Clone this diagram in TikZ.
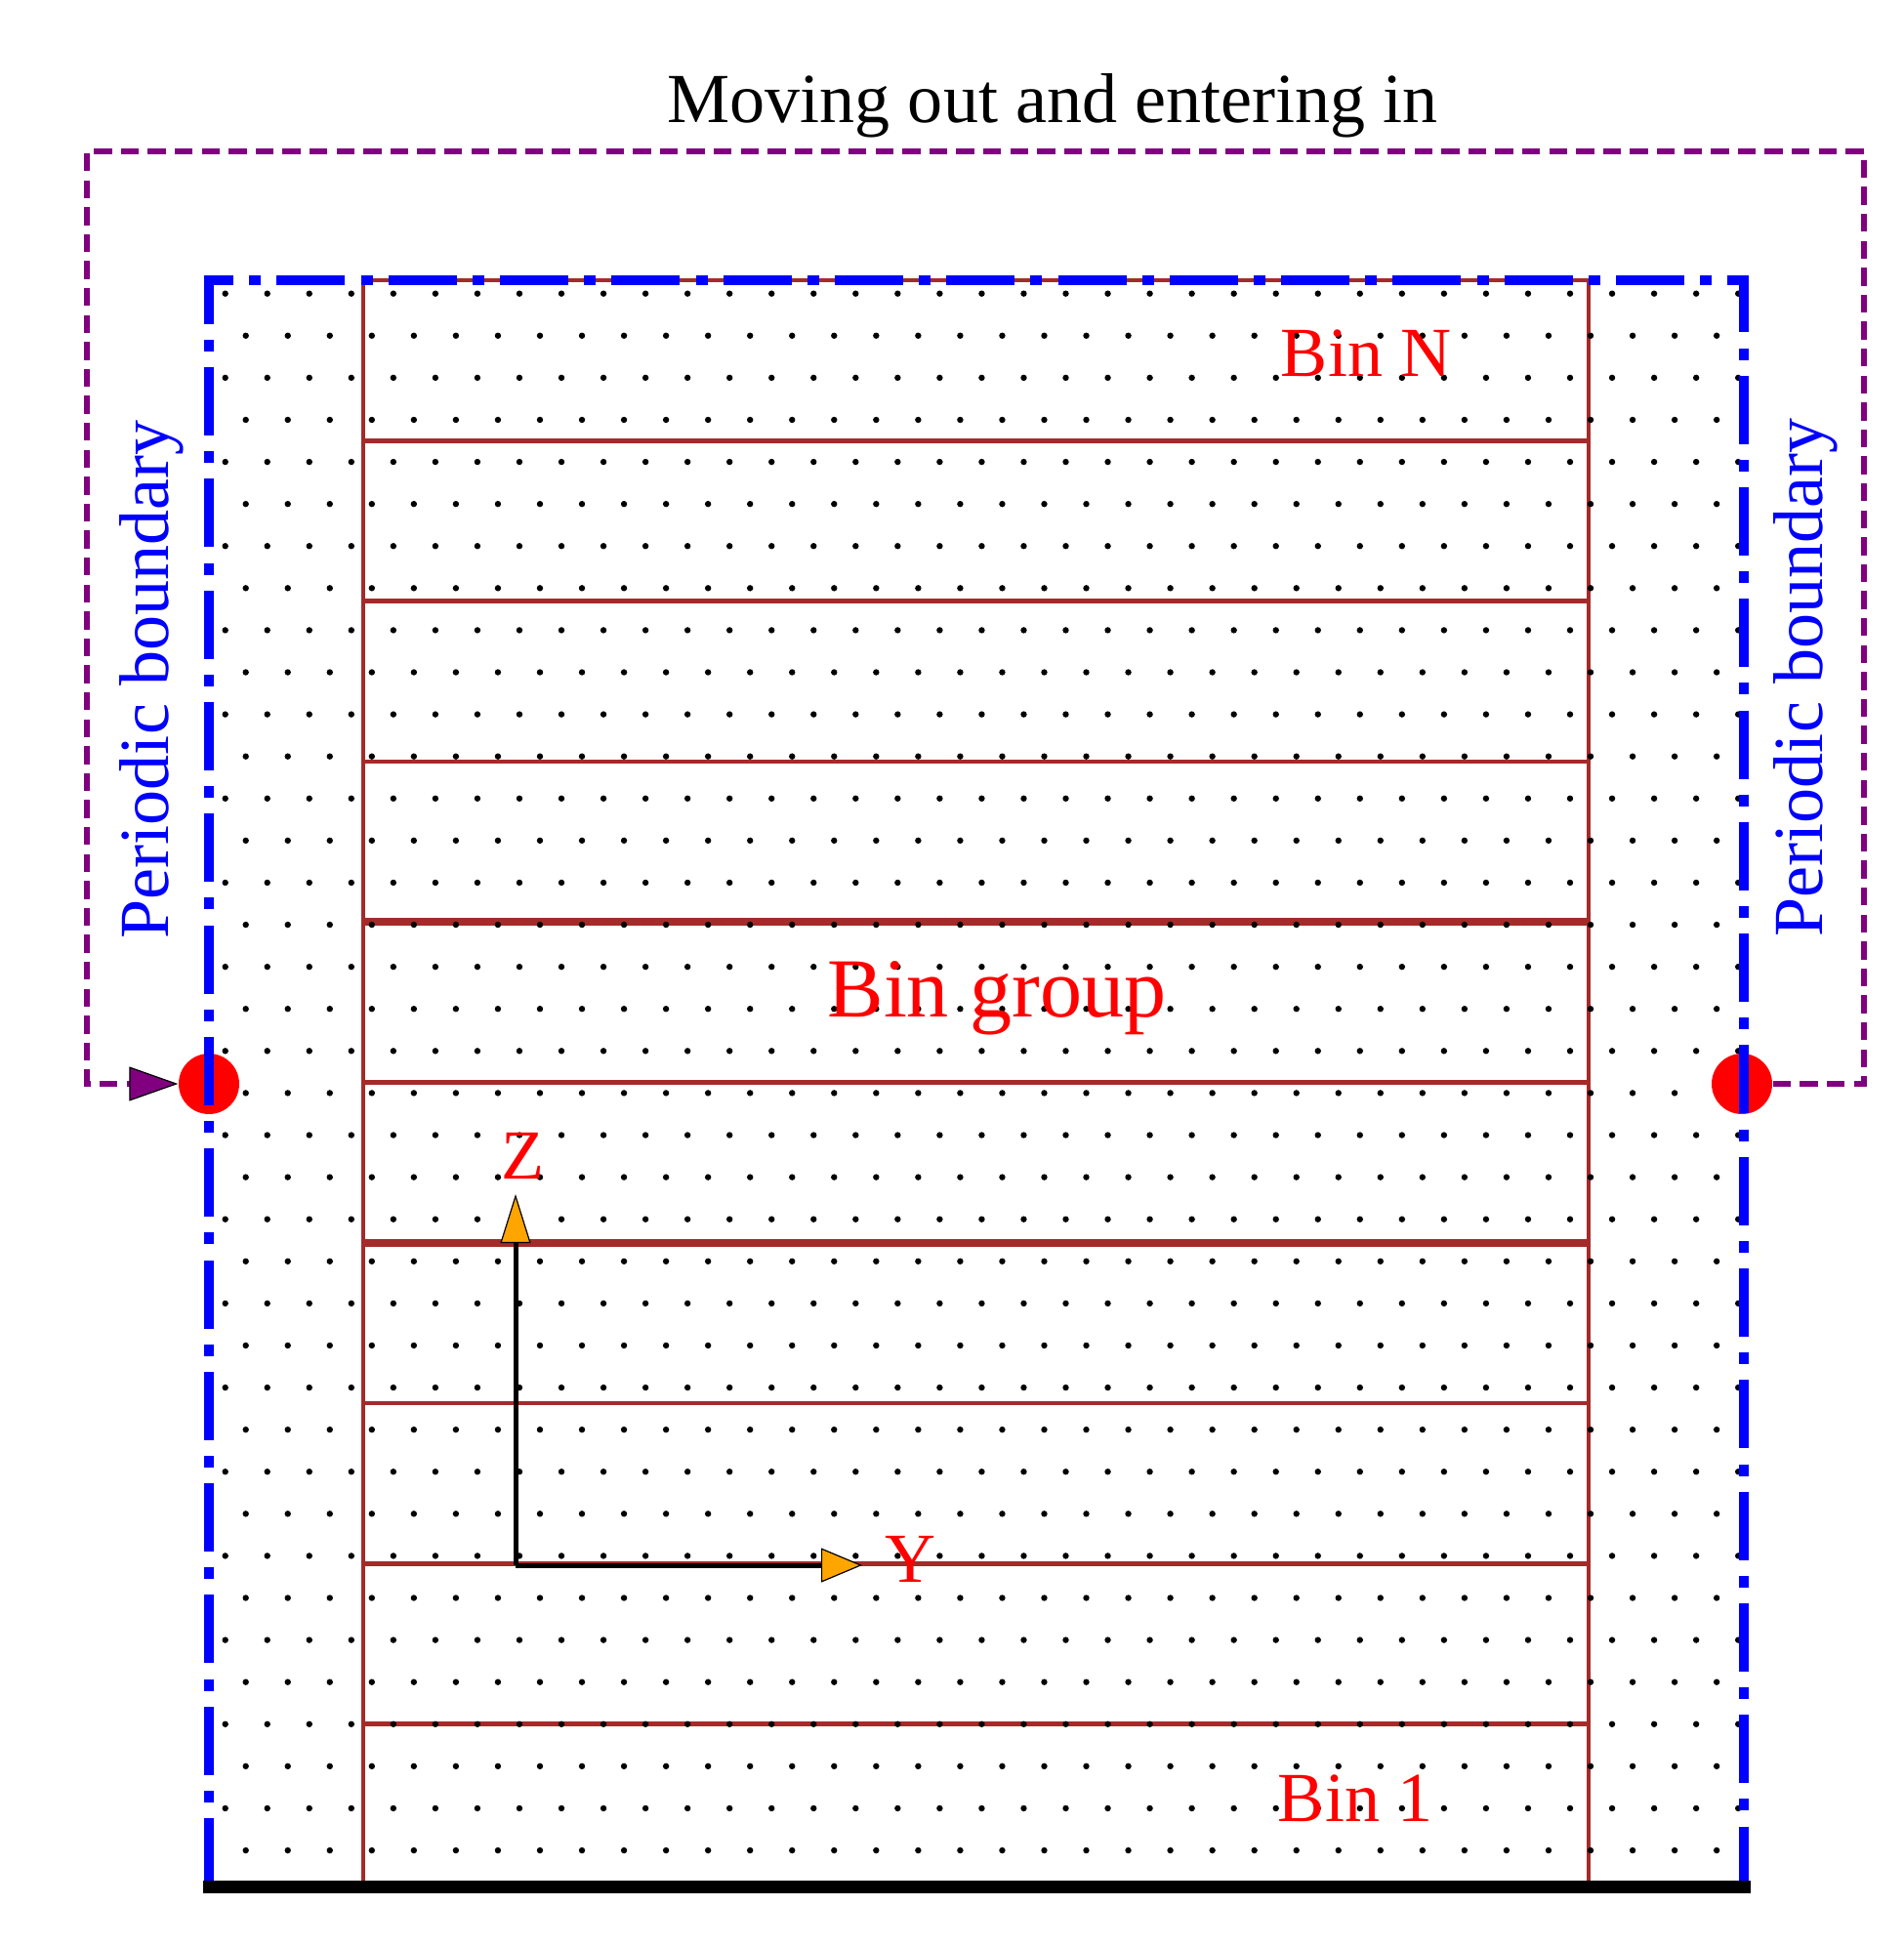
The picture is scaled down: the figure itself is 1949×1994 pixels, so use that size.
\documentclass[tikz,border=0pt]{standalone}
\usepackage{fontspec}
\setmainfont{Liberation Serif}
\usetikzlibrary{arrows.meta}
\definecolor{binred}{RGB}{165,42,42}
\definecolor{pbblue}{RGB}{0,0,255}
\definecolor{pbpurple}{RGB}{128,0,128}
\definecolor{axorange}{RGB}{255,165,0}
\begin{document}
\begin{tikzpicture}[x=0.1mm,y=-0.1mm,
  binline/.style={draw=binred,line width=0.45mm},
  binthick/.style={draw=binred,line width=0.75mm},
  pbline/.style={draw=pbblue,line width=1mm,line join=miter,
     dash pattern=on 7mm off 1.615mm on 1.2mm off 1.615mm},
  pbpath/.style={draw=pbpurple,line width=0.55mm,
     dash pattern=on 1.83mm off 0.93mm,
     -{Triangle[length=5mm,width=3.5mm,fill=pbpurple,color=black,line width=0.12mm]}},
  axisZ/.style={draw=black,line width=0.5mm,
     -{Triangle[length=5mm,width=3.1mm,fill=axorange,color=black,line width=0.12mm]}},
  axisY/.style={draw=black,line width=0.5mm,
     -{Triangle[length=4.2mm,width=3.5mm,fill=axorange,color=black,line width=0.12mm]}},
  bigtxt/.style={font=\fontsize{20.5}{24}\selectfont,inner sep=0pt,anchor=base},
  redtxt/.style={bigtxt,text=red},
  bluetxt/.style={bigtxt,text=pbblue},
  pbcircle/.style={circle,fill=red,minimum size=6.2mm,inner sep=0pt}]
\useasboundingbox (0,0) rectangle (1949,1994);

% corners
\coordinate (TL) at (214,287);
\coordinate (TR) at (1786,287);
\coordinate (BL) at (214,1932);
\coordinate (BR) at (1786,1932);
\coordinate (RTL) at (372,287);
\coordinate (RTR) at (1627,287);
\coordinate (RBL) at (372,1932);
\coordinate (RBR) at (1627,1932);

% bin lines
\draw[binline] (RBL) -- (RTL) -- (RTR) -- (RBR);
\foreach \i in {1,2,3,5,7,8,9}{
  \draw[binline] (372,287+164.3*\i) -- (1627,287+164.3*\i);
}
\foreach \i in {4,6}{
  \draw[binthick] (372,287+164.3*\i) -- (1627,287+164.3*\i);
}

% dots
\foreach \k in {0,...,37}{
  \pgfmathsetmacro\yy{300.7+43.09*\k}
  \pgfmathsetmacro\xs{mod(\k,2)==0 ? 230.7 : 251.7}
  \pgfmathtruncatemacro\nn{mod(\k,2)==0 ? 36 : 35}
  \foreach \j in {0,...,\nn}{
    \fill[black] (\xs+43.04*\j,\yy) circle[radius=0.32mm];
  }
}

% circles
\node[pbcircle] (lc) at (214,1110) {};
\node[pbcircle] (rc) at (1784,1110) {};

% periodic boundary
\draw[pbline] (BL) -- (TL) -- (TR) -- (BR);
\draw[black,line width=1.3mm,line cap=rect] (BL) -- (BR);

% moving path
\coordinate (p1) at (1909,1110);
\coordinate (p2) at (1909,155);
\coordinate (p3) at (89,155);
\coordinate (p4) at (89,1110);
\draw[pbpath] (rc.east) -- (p1) -- (p2) -- (p3) -- (p4) -- (lc.west);

% axes
\coordinate (O) at (528,1603);
\coordinate (Zt) at (528,1223);
\coordinate (Yt) at (883,1603);
\draw[axisZ] (O) -- (Zt);
\draw[axisY] (O) -- (Yt);

% texts
\node[bigtxt] (title) at (1078,126) {Moving out and entering in};
\node[bluetxt,rotate=90] (pbl) at (172,696) {Periodic boundary};
\node[bluetxt,rotate=90] (pbr) at (1866,694) {Periodic boundary};
\node[redtxt] (binN) at (1399,386) {Bin N};
\node[redtxt] (bin1) at (1388,1865) {Bin 1};
\node[redtxt,font=\fontsize{24.5}{28}\selectfont] (bing) at (1021,1041) {Bin group};
\node[redtxt] (zl) at (535,1207) {Z};
\node[redtxt] (yl) at (932,1620) {Y};
\end{tikzpicture}
\end{document}
